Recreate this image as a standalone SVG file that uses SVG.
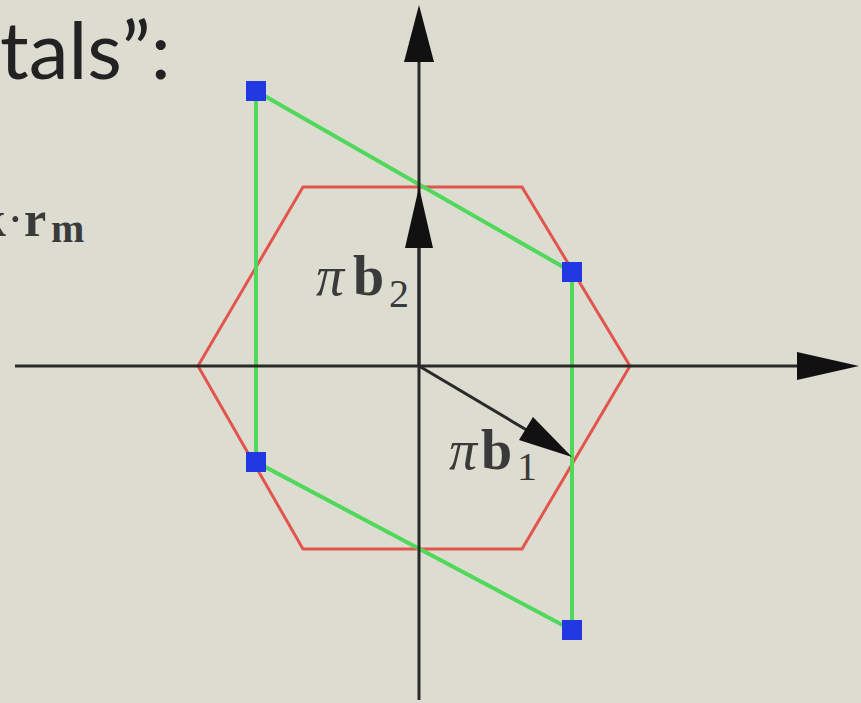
<svg xmlns="http://www.w3.org/2000/svg" width="861" height="703" viewBox="0 0 861 703">
<defs>
<style>
.axis{stroke:#2a2a2a;stroke-width:3;fill:none}
.hex{stroke:#e2544c;stroke-width:3;fill:none;stroke-linejoin:miter}
.par{stroke:#4fd85a;stroke-width:4;fill:none}
.pt{fill:#2238e0}
.head{fill:#111}
.title{font-family:Lato,"Open Sans",sans-serif;fill:#222;font-size:80px}
.math{font-family:"Liberation Serif","DejaVu Serif",serif;fill:#3a3a3a}
.it{font-style:italic}
.bf{font-weight:bold}
</style>
</defs>
<rect width="861" height="703" fill="#dcdcd1"/>
<g id="text-top">
<text class="title" x="0" y="79">tals”:</text>
</g>
<g id="text-left">
<text class="math" y="236" font-size="50"><tspan class="bf" x="-22">k</tspan><tspan x="7">·</tspan><tspan class="bf" x="24">r</tspan><tspan class="bf" x="51" y="242" font-size="40">m</tspan></text>
</g>
<g id="hexagon">
<polygon class="hex" points="303,187 522,187 630,366 522,549 303,549 198,366"/>
</g>
<g id="parallelogram">
<polygon class="par" points="256,91 572,272 572,630 256,462"/>
</g>
<g id="connectors">
<line class="axis" x1="419" y1="60" x2="419" y2="700"/>
<polygon class="head" points="419,5 434,62 404,62"/>
<line class="axis" x1="15" y1="366" x2="800" y2="366"/>
<polygon class="head" points="859,366 797,352 797,380"/>
<line class="axis" x1="419" y1="366" x2="419" y2="245"/>
<polygon class="head" points="419,187 433,248 405,248"/>
<line class="axis" x1="419" y1="366" x2="530" y2="432"/>
<polygon class="head" points="572,457 519,440 533,417"/>
</g>
<g id="points">
<rect class="pt" x="246" y="81" width="20" height="20"/>
<rect class="pt" x="562" y="262" width="20" height="20"/>
<rect class="pt" x="246" y="452" width="20" height="20"/>
<rect class="pt" x="562" y="620" width="20" height="20"/>
</g>
<g id="label-b2">
<text class="math" y="295" font-size="56"><tspan class="it" x="316">π</tspan><tspan class="bf" x="353">b</tspan><tspan x="389" y="307" font-size="40">2</tspan></text>
</g>
<g id="label-b1">
<text class="math" y="469" font-size="56"><tspan class="it" x="449">π</tspan><tspan class="bf" x="481">b</tspan><tspan x="517" y="480" font-size="40">1</tspan></text>
</g>
</svg>
